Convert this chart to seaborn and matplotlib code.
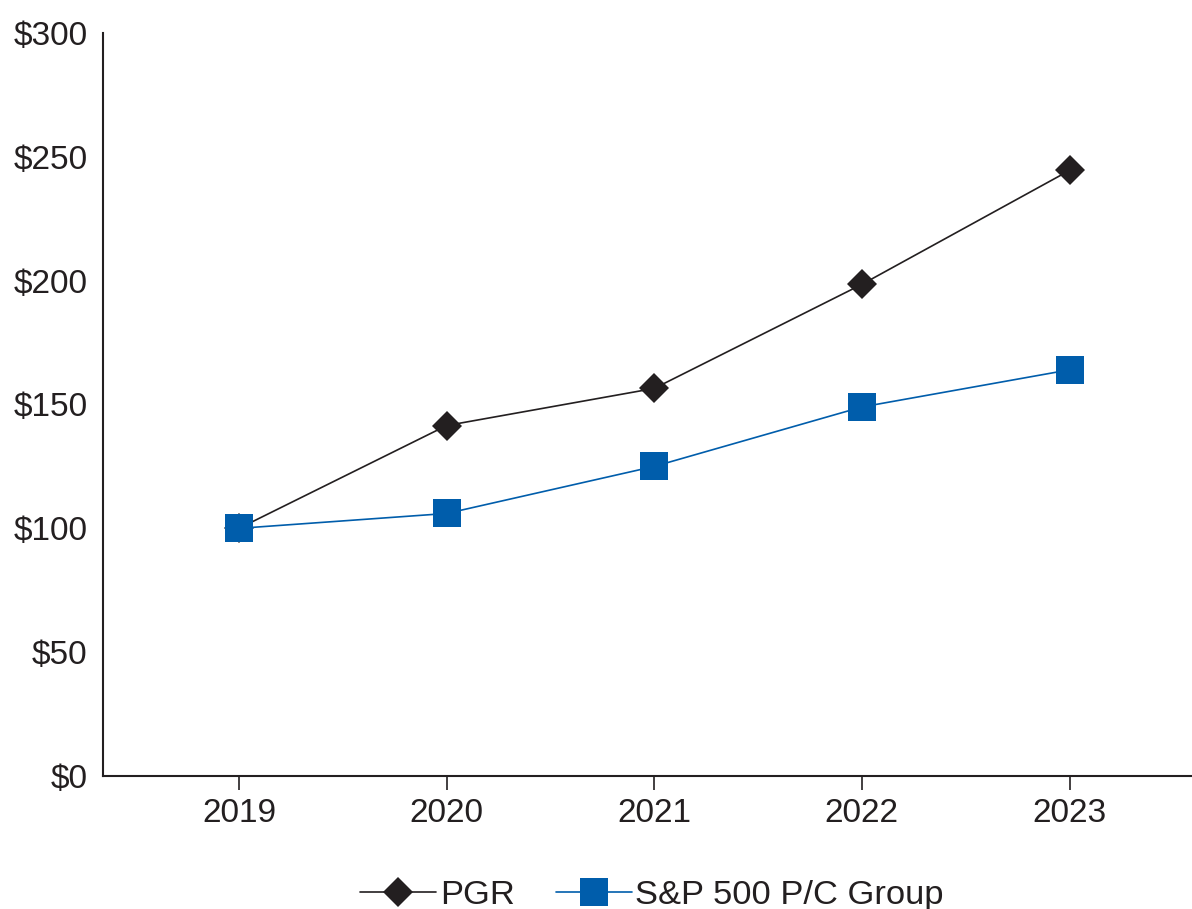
import numpy as np
import pandas as pd
import seaborn as sns
import matplotlib.pyplot as plt
from matplotlib.lines import Line2D

# Data
years = [2019, 2020, 2021, 2022, 2023]
pgr = [100, 141.5, 156.5, 198.5, 244.5]
sp_pc = [100, 106, 125, 149, 164]
series_names = ["PGR", "S&P 500 P/C Group"]

df = pd.DataFrame({
    "year": years * 2,
    "value": pgr + sp_pc,
    "series": [series_names[0]] * len(years) + [series_names[1]] * len(years),
})

sns.set_style("white")
plt.rcParams['font.family'] = ['Liberation Sans', 'DejaVu Sans']

colors = {"PGR": "#231f20", "S&P 500 P/C Group": "#005dab"}
markers = {"PGR": "D", "S&P 500 P/C Group": "s"}

fig = plt.figure(figsize=(11.92, 9.09), dpi=100)
ax = fig.add_axes([103 / 1192, 133 / 909, 1 - 103 / 1192, 743 / 909])

sns.lineplot(data=df, x="year", y="value", hue="series", style="series",
             palette=colors, markers=markers, dashes=False, linewidth=1.2,
             markersize=20, markeredgewidth=0, ax=ax, legend=False)

# diamond a bit smaller than the square
for line in ax.lines:
    if line.get_marker() == "D":
        line.set_markersize(15)

ax.set_xlim(2019 - 0.655, 2023 + 0.59)
ax.set_ylim(0, 300)
ax.set_xticks(years)
ax.set_xticklabels([str(y) for y in years])
ax.set_yticks(range(0, 301, 50))
ax.set_yticklabels([f"${v}" for v in range(0, 301, 50)])
ax.set_xlabel("")
ax.set_ylabel("")

for side in ["top", "right"]:
    ax.spines[side].set_visible(False)
for side in ["left", "bottom"]:
    ax.spines[side].set_color("#231f20")
    ax.spines[side].set_linewidth(1.5)

ax.tick_params(axis="y", left=False, length=0, pad=11, labelsize=24, labelcolor="#231f20")
ax.tick_params(axis="x", bottom=True, direction="out", length=10, width=1.2, color="#231f20",
               pad=6, labelsize=24, labelcolor="#231f20")

# legend
handles = [
    Line2D([0], [0], color=colors["PGR"], marker="D", markersize=15, markeredgewidth=0, linewidth=1.2),
    Line2D([0], [0], color=colors["S&P 500 P/C Group"], marker="s", markersize=20, markeredgewidth=0, linewidth=1.2),
]
fig.legend(handles, series_names, loc="center", bbox_to_anchor=(652 / 1192, 1 - 895 / 909),
           ncol=2, frameon=False, fontsize=24.8, handlelength=2.2, handletextpad=0.1,
           columnspacing=1.2, labelcolor="#231f20", borderpad=0)

fig.savefig("out.png", dpi=100)
